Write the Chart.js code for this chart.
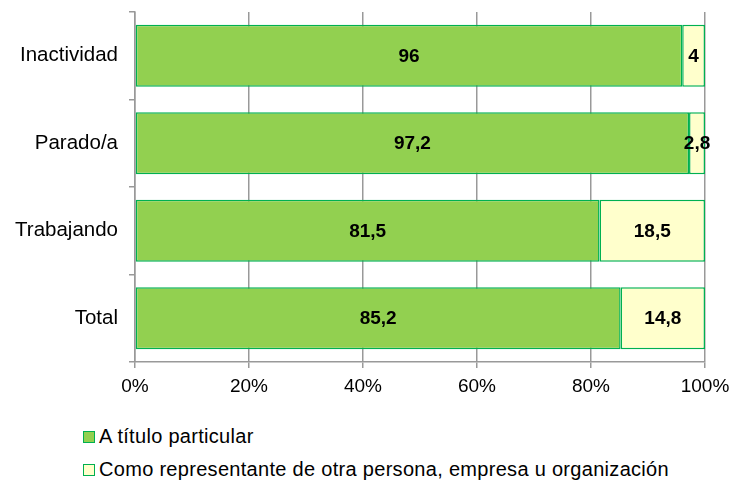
<!DOCTYPE html>
<html lang="es">
<head>
<meta charset="UTF-8">
<title>Situación laboral</title>
<script src="https://cdn.jsdelivr.net/npm/chart.js"></script>
<style>
    body { margin: 0; background: #fff; font-family: "Liberation Sans", Arial, sans-serif; }
    .caja { position: relative; width: 735px; height: 484px; }
    .leyenda { position: absolute; left: 83px; top: 424px; font-size: 20px; letter-spacing: 0.3px; color: #000; }
    .leyenda div { height: 33px; line-height: 24px; white-space: nowrap; }
    .leyenda span.cuadro { display: inline-block; box-sizing: border-box; width: 12px; height: 12px; border: 1.5px solid #00B050; margin-right: 4px; vertical-align: 0px; }
</style>
</head>
<body>
<div class="caja">
    <canvas id="grafico" width="735" height="400"></canvas>
    <div class="leyenda" id="leyenda"></div>
</div>
<script>
    // datos
    const categorias = ['Inactividad', 'Parado/a', 'Trabajando', 'Total'];
    const tituloParticular = [96, 97.2, 81.5, 85.2];
    const representante = [4, 2.8, 18.5, 14.8];
    const nombresSeries = ['A título particular', 'Como representante de otra persona, empresa u organización'];
    const ticksX = [0, 20, 40, 60, 80, 100];

    const colores = ['#92D050', '#FFFFCC'];
    const borde = '#00B050';
    const fuente = '"Liberation Sans", Arial, sans-serif';

    // etiquetas dentro de las barras
    const etiquetas = {
        id: 'etiquetas',
        afterDatasetsDraw(chart) {
            const ctx = chart.ctx;
            ctx.save();
            ctx.font = 'bold 19px ' + fuente;
            ctx.fillStyle = '#000';
            ctx.textAlign = 'center';
            ctx.textBaseline = 'middle';
            chart.data.datasets.forEach((ds, i) => {
                chart.getDatasetMeta(i).data.forEach((bar, j) => {
                    const x = (bar.x + bar.base) / 2;
                    ctx.fillText(String(ds.data[j]).replace('.', ','), x, bar.y + 1);
                });
            });
            ctx.restore();
        }
    };

    new Chart(document.getElementById('grafico'), {
        type: 'bar',
        data: {
            labels: categorias,
            datasets: [{
                label: nombresSeries[0],
                data: tituloParticular,
                backgroundColor: colores[0],
                borderColor: borde,
                borderWidth: 1.5,
                borderSkipped: false
            }, {
                label: nombresSeries[1],
                data: representante,
                backgroundColor: colores[1],
                borderColor: borde,
                borderWidth: 1.5,
                borderSkipped: false
            }]
        },
        options: {
            indexAxis: 'y',
            responsive: false,
            animation: false,
            barPercentage: 0.71,
            categoryPercentage: 1,
            layout: { padding: { top: 12, right: 30, bottom: 0, left: 0 } },
            plugins: { legend: { display: false }, tooltip: { enabled: false } },
            scales: {
                x: {
                    stacked: true,
                    min: 0,
                    max: 100,
                    afterBuildTicks(scale) { scale.ticks = ticksX.map(v => ({ value: v })); },
                    afterFit(scale) {
                        scale.height = 38;
                        scale.paddingLeft = 0;
                        scale.paddingRight = 0;
                    },
                    ticks: {
                        callback: v => v + '%',
                        color: '#000',
                        padding: 7,
                        maxRotation: 0,
                        font: { family: fuente, size: 19 }
                    },
                    grid: { color: '#999', lineWidth: 1.5, tickLength: 6 },
                    border: { color: '#999', width: 1.5 }
                },
                y: {
                    stacked: true,
                    afterFit(scale) {
                        scale.width = 135;
                        scale.paddingTop = 0;
                        scale.paddingBottom = 0;
                    },
                    ticks: {
                        color: '#000',
                        padding: 11,
                        font: { family: fuente, size: 20.5 }
                    },
                    grid: { drawOnChartArea: false, color: '#999', lineWidth: 1.5, tickLength: 6 },
                    border: { color: '#999', width: 1.5 }
                }
            }
        },
        plugins: [etiquetas]
    });

    // leyenda en HTML
    const ley = document.getElementById('leyenda');
    nombresSeries.forEach((n, i) => {
        const d = document.createElement('div');
        d.innerHTML = '<span class="cuadro" style="background:' + colores[i] + '"></span>' + n;
        ley.appendChild(d);
    });
</script>
</body>
</html>
